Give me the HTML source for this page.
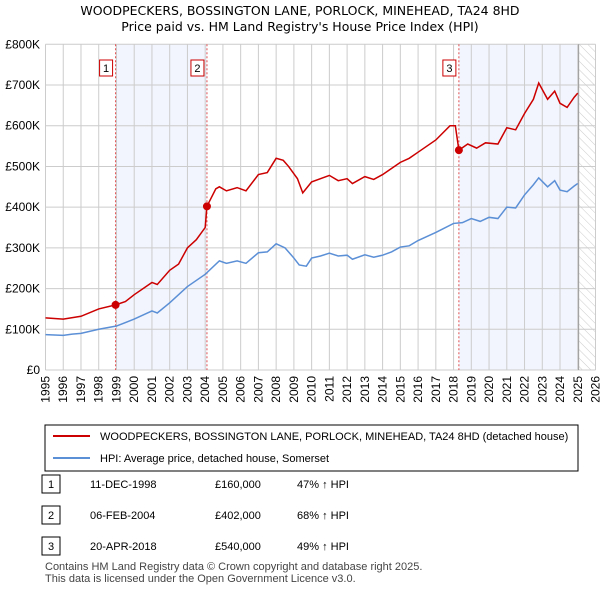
<!DOCTYPE html>
<html><head><meta charset="utf-8"><style>
body{margin:0;background:#fff;font-family:"Liberation Sans",sans-serif;}
svg text{font-family:"Liberation Sans",sans-serif;}
svg text.dv{font-family:"DejaVu Sans",sans-serif;}
</style></head><body>
<svg width="600" height="590" xmlns="http://www.w3.org/2000/svg">
<defs><pattern id="hatch" width="6" height="6" patternUnits="userSpaceOnUse" patternTransform="rotate(-45)"><line x1="0" y1="0" x2="0" y2="6" stroke="#ccc" stroke-width="1"/></pattern></defs>
<text class="dv" x="300" y="15" text-anchor="middle" font-size="12.5" fill="#000">WOODPECKERS, BOSSINGTON LANE, PORLOCK, MINEHEAD, TA24 8HD</text>
<text class="dv" x="300" y="31" text-anchor="middle" font-size="12.5" fill="#000">Price paid vs. HM Land Registry's House Price Index (HPI)</text>
<g id="plot"></g>
<g>
<rect x="45" y="425" width="533" height="46" fill="#fff" stroke="#000" stroke-width="1"/>
<line x1="53" y1="436" x2="90" y2="436" stroke="#cc0000" stroke-width="2"/>
<text x="100" y="440" font-size="11">WOODPECKERS, BOSSINGTON LANE, PORLOCK, MINEHEAD, TA24 8HD (detached house)</text>
<line x1="53" y1="458" x2="90" y2="458" stroke="#5b8fd6" stroke-width="2"/>
<text x="100" y="462" font-size="11">HPI: Average price, detached house, Somerset</text>
</g>
<g font-size="11">
<rect x="42" y="475" width="18" height="18" fill="#fff" stroke="#000"/><text x="51" y="488" text-anchor="middle">1</text>
<text x="90" y="488">11-DEC-1998</text><text x="215" y="488">£160,000</text><text x="297" y="488">47% ↑ HPI</text>
<rect x="42" y="506" width="18" height="18" fill="#fff" stroke="#000"/><text x="51" y="519" text-anchor="middle">2</text>
<text x="90" y="519">06-FEB-2004</text><text x="215" y="519">£402,000</text><text x="297" y="519">68% ↑ HPI</text>
<rect x="42" y="537" width="18" height="18" fill="#fff" stroke="#000"/><text x="51" y="550" text-anchor="middle">3</text>
<text x="90" y="550">20-APR-2018</text><text x="215" y="550">£540,000</text><text x="297" y="550">49% ↑ HPI</text>
</g>
<text x="45" y="570" font-size="11" fill="#444">Contains HM Land Registry data © Crown copyright and database right 2025.</text>
<text x="45" y="582" font-size="11" fill="#444">This data is licensed under the Open Government Licence v3.0.</text>
</svg>
<script>
const hpiYears=[1995,1996,1996.5,1997,1998,1999,2000,2001,2001.3,2002,2003,2004,2004.8,2005.2,2005.8,2006.3,2007,2007.5,2008,2008.5,2009,2009.3,2009.7,2010,2010.5,2011,2011.5,2012,2012.3,2013,2013.5,2014,2014.5,2015,2015.5,2016,2017,2018,2018.5,2019,2019.5,2020,2020.5,2021,2021.5,2022,2022.5,2022.8,2023.3,2023.7,2024,2024.4,2024.8,2025];
const hpiValues=[87,85,88,90,100,108,125,145,140,165,205,235,268,262,268,262,288,290,310,300,275,258,255,275,280,287,280,282,272,283,277,282,290,302,305,318,338,360,362,372,365,375,372,400,398,430,455,472,450,465,442,438,452,458];
const priceYears=[1995,1996,1997,1998,1998.95,1999.5,2000,2001,2001.3,2002,2002.5,2003,2003.5,2004.0,2004.1,2004.6,2004.8,2005.2,2005.8,2006.3,2007,2007.5,2008,2008.4,2008.7,2009.2,2009.5,2010,2011,2011.5,2012,2012.3,2013,2013.5,2014,2014.5,2015,2015.5,2016,2017,2017.8,2018.1,2018.3,2018.8,2019.3,2019.8,2020.5,2021,2021.5,2022,2022.5,2022.8,2023.3,2023.7,2024,2024.4,2024.8,2025];
const priceValues=[128,125,132,150,160,168,185,215,210,245,260,300,320,350,402,445,450,440,448,440,480,485,520,515,500,470,435,462,478,465,470,458,475,468,480,495,510,520,535,565,600,600,540,555,545,558,555,595,590,630,665,705,665,685,655,645,670,680];
const saleYears=[1998.95,2004.1,2018.3];
const saleValues=[160,402,540];
const saleLabels=["1","2","3"];
const yTicks=[0,100,200,300,400,500,600,700,800];
const yTickLabels=["£0","£100K","£200K","£300K","£400K","£500K","£600K","£700K","£800K"];
const xTicks=[1995,1996,1997,1998,1999,2000,2001,2002,2003,2004,2005,2006,2007,2008,2009,2010,2011,2012,2013,2014,2015,2016,2017,2018,2019,2020,2021,2022,2023,2024,2025,2026];
const x0=45.5,x1=595.5,yBot=370,yTop=44.3;
const X=y=>x0+(y-1995)/(2026-1995)*(x1-x0);
const Y=v=>yBot-v/800*(yBot-yTop);
const NS="http://www.w3.org/2000/svg";
const g=document.getElementById('plot');
function mk(t,a){const e=document.createElementNS(NS,t);for(const k in a)e.setAttribute(k,a[k]);g.appendChild(e);return e;}
let e;
e=mk('rect',{x:X(1998.95),y:yTop,width:X(2004.1)-X(1998.95),height:yBot-yTop,fill:'#f2f5fd'});


e=mk('rect',{x:X(2018.3),y:yTop,width:X(2025.05)-X(2018.3),height:yBot-yTop,fill:'#f2f5fd'});


e=mk('rect',{x:X(2025.05),y:yTop,width:x1-X(2025.05),height:yBot-yTop,fill:'url(#hatch)'});


yTicks.forEach((v,i)=>{
 e=mk('line',{x1:x0,x2:x1,y1:Y(v),y2:Y(v),stroke:'#ccc','stroke-width':1});
 
 
 e=mk('text',{x:40,y:Y(v)+4,'text-anchor':'end','font-size':12});
 e.textContent=yTickLabels[i];
 
 
});
xTicks.forEach(t=>{
 e=mk('line',{x1:X(t),x2:X(t),y1:yTop,y2:yBot,stroke:'#ccc','stroke-width':1});
 
 
 e=mk('text',{x:0,y:0,'text-anchor':'end','font-size':12,transform:`translate(${X(t)+4},${yBot+6}) rotate(-90)`});
 e.textContent=t;
 
 
});
e=mk('line',{x1:X(2025.05),x2:X(2025.05),y1:yTop,y2:yBot,stroke:'#999','stroke-width':1});


saleYears.forEach((s,i)=>{
 e=mk('line',{x1:X(s),x2:X(s),y1:yTop,y2:yBot,stroke:'#e05050','stroke-width':1,'stroke-dasharray':'2,2'});
 
 
});
e=mk('polyline',{points:hpiYears.map((y,i)=>X(y)+','+Y(hpiValues[i])).join(' '),fill:'none',stroke:'#5b8fd6','stroke-width':1.5});


e=mk('polyline',{points:priceYears.map((y,i)=>X(y)+','+Y(priceValues[i])).join(' '),fill:'none',stroke:'#cc0000','stroke-width':1.5});


saleYears.forEach((s,i)=>{
 e=mk('circle',{cx:X(s),cy:Y(saleValues[i]),r:4,fill:'#cc0000'});
 
 
 e=mk('rect',{x:X(s)-16,y:60,width:13,height:16,fill:'#fff',stroke:'#cc0000'});
 
 
 e=mk('text',{x:X(s)-9.5,y:72,'text-anchor':'middle','font-size':11});
 e.textContent=saleLabels[i];
 
 
});
</script>
</body></html>
